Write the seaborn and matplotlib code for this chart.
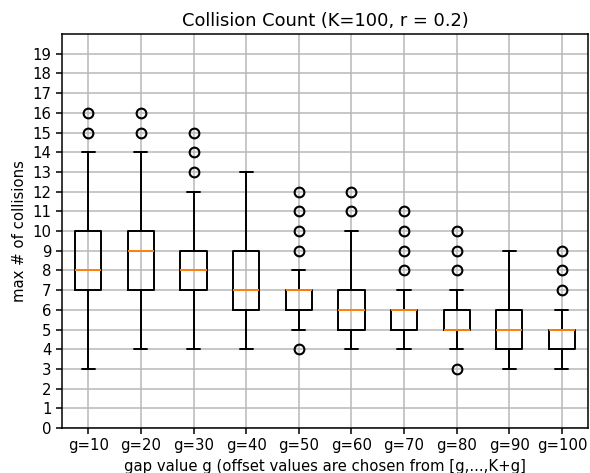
import matplotlib
matplotlib.use("Agg")
import matplotlib.pyplot as plt
import seaborn as sns

# valeurs
gaps = ['g=10', 'g=20', 'g=30', 'g=40', 'g=50', 'g=60', 'g=70', 'g=80', 'g=90', 'g=100']
whis_low = [3, 4, 4, 4, 5, 4, 4, 4, 3, 3]
q1 = [7, 7, 7, 6, 6, 5, 5, 5, 4, 4]
medians = [8, 9, 8, 7, 7, 6, 6, 5, 5, 5]
q3 = [10, 10, 9, 9, 7, 7, 6, 6, 6, 5]
whis_high = [14, 14, 12, 13, 8, 10, 7, 7, 9, 6]
outliers = [
    [15, 16],
    [15, 16],
    [13, 14, 15],
    [],
    [4, 9, 10, 11, 12],
    [11, 12],
    [8, 9, 10, 11],
    [3, 8, 9, 10],
    [],
    [7, 8, 9],
]

sns.set_style("ticks")
plt.rcParams['font.family'] = ['DejaVu Sans']
plt.rcParams['font.size'] = 10.7
plt.rcParams['text.color'] = 'black'
plt.rcParams['axes.labelcolor'] = 'black'
plt.rcParams['xtick.color'] = 'black'
plt.rcParams['ytick.color'] = 'black'
plt.rcParams['xtick.major.width'] = 1.1
plt.rcParams['ytick.major.width'] = 1.1
plt.rcParams['xtick.major.size'] = 4
plt.rcParams['ytick.major.size'] = 4

stats = []
for i in range(len(gaps)):
    stats.append({
        'label': gaps[i],
        'whislo': whis_low[i],
        'q1': q1[i],
        'med': medians[i],
        'q3': q3[i],
        'whishi': whis_high[i],
        'fliers': outliers[i],
    })

fig, ax = plt.subplots(figsize=(5.9, 4.73), dpi=100)
fig.subplots_adjust(left=0.105, right=0.997, bottom=0.095, top=0.928)

lw = 1.4
ax.bxp(stats, showfliers=True,
       boxprops={'linewidth': lw, 'color': 'black'},
       whiskerprops={'linewidth': lw, 'color': 'black'},
       capprops={'linewidth': lw, 'color': 'black'},
       medianprops={'color': '#ff7f0e', 'linewidth': lw},
       flierprops={'marker': 'o', 'markersize': 7, 'markeredgewidth': 1.5,
                   'markerfacecolor': 'none', 'markeredgecolor': 'black'})

ax.set_ylim(0, 20)
ax.set_yticks(range(20))
ax.grid(True, color='#b8b8b8', linewidth=1.1)
ax.set_axisbelow(True)
for s in ax.spines.values():
    s.set_color('black')
    s.set_linewidth(1.1)

ax.set_title('Collision Count (K=100, r = 0.2)')
ax.set_ylabel('max # of collisions')
ax.set_xlabel('gap value g (offset values are chosen from [g,...,K+g]')

fig.savefig('out.png', dpi=100)
